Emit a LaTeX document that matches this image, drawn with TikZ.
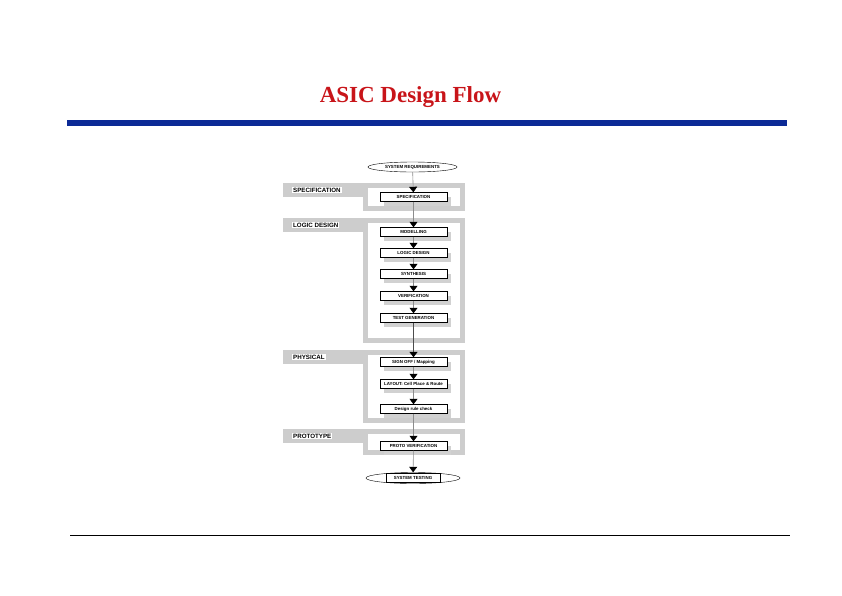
\documentclass[tikz,border=0pt]{standalone}
\usepackage{fontspec}
\setmainfont{Liberation Serif}
\setsansfont{Liberation Sans}
\usetikzlibrary{arrows.meta,positioning,shapes.geometric,shadows}
\definecolor{titlered}{RGB}{200,20,25}
\definecolor{barblue}{RGB}{12,42,150}
\definecolor{panelgray}{RGB}{205,205,205}

\begin{document}
\begin{tikzpicture}[x=1pt,y=-1pt,flowbox/.style={rectangle,draw,fill=white,minimum width=67pt,minimum height=9pt,inner sep=0pt,font=\sffamily\bfseries\fontsize{4.4}{5}\selectfont,drop shadow={shadow xshift=4pt,shadow yshift=-4pt,fill=black!18,opacity=1}},endbox/.style={ellipse,draw,fill=white,inner sep=0pt,font=\sffamily\bfseries\fontsize{4.4}{5}\selectfont},panel/.style={draw=panelgray,line width=5pt,fill=white},band/.style={fill=panelgray},stage/.style={anchor=west,fill=white,inner sep=1pt,font=\sffamily\bfseries\fontsize{6.2}{7}\selectfont},arrow/.style={-{Triangle[length=5.5pt,width=8pt,color=black]},draw=black!45,line width=0.6pt}]
\useasboundingbox (0,0) rectangle (842,595);
\node[font=\fontsize{23}{26}\selectfont\bfseries,text=titlered,anchor=base] (title) at (410.5,102) {ASIC Design Flow};
\fill[barblue] (67,120) rectangle (787,125.5);
\draw[line width=0.8pt] (70,535) -- (790,535);
% stage bands and panels
\fill[band] (283,183) rectangle (365,197); \draw[panel] (365.5,185.5) rectangle (462.5,208.5);
\fill[band] (283,218) rectangle (365,232); \draw[panel] (365.5,220.5) rectangle (462.5,340.5);
\fill[band] (283,350) rectangle (365,364); \draw[panel] (365.5,352.5) rectangle (462.5,420.5);
\fill[band] (283,429) rectangle (365,443); \draw[panel] (365.5,431.5) rectangle (462.5,452.5);
\node[stage] (lspec) at (292,190) {SPECIFICATION};
\node[stage] (llogic) at (292,225) {LOGIC DESIGN};
\node[stage] (lphys) at (292,357) {PHYSICAL};
\node[stage] (lproto) at (292,436) {PROTOTYPE};
% flow
\node[endbox,minimum width=89pt,minimum height=10pt] (sysreq) at (412.5,167) {SYSTEM REQUIREMENTS};
\node[flowbox] (spec) at (413.5,197) {SPECIFICATION};
\node[flowbox] (model) at (413.5,232) {MODELLING};
\node[flowbox] (logic) at (413.5,253) {LOGIC DESIGN};
\node[flowbox] (synth) at (413.5,274) {SYNTHESIS};
\node[flowbox] (verif) at (413.5,296) {VERIFICATION};
\node[flowbox] (testgen) at (413.5,318) {TEST GENERATION};
\node[flowbox] (signoff) at (413.5,362) {SIGN OFF / Mapping};
\node[flowbox] (layout) at (413.5,384) {LAYOUT: Cell Place \& Route};
\node[flowbox] (check) at (413.5,409) {Design rule check};
\node[flowbox] (protov) at (413.5,446) {PROTO VERIFICATION};
\node[endbox,minimum width=94pt,minimum height=11pt] (systest) at (413,478) {};
\node[rectangle,draw,fill=white,minimum width=54pt,minimum height=9pt,inner sep=0pt,font=\sffamily\bfseries\fontsize{4.4}{5}\selectfont] (systestlbl) at (systest.center) {SYSTEM TESTING};
\draw[arrow] (sysreq) -- (spec); \draw[arrow] (spec) -- (model); \draw[arrow] (model) -- (logic); \draw[arrow] (logic) -- (synth); \draw[arrow] (synth) -- (verif); \draw[arrow] (verif) -- (testgen);
\draw[arrow,draw=black!70,line width=1.4pt] (testgen) -- (signoff);
\draw[arrow] (signoff) -- (layout); \draw[arrow] (layout) -- (check); \draw[arrow] (check) -- (protov); \draw[arrow] (protov) -- (systest);
\end{tikzpicture}
\end{document}
